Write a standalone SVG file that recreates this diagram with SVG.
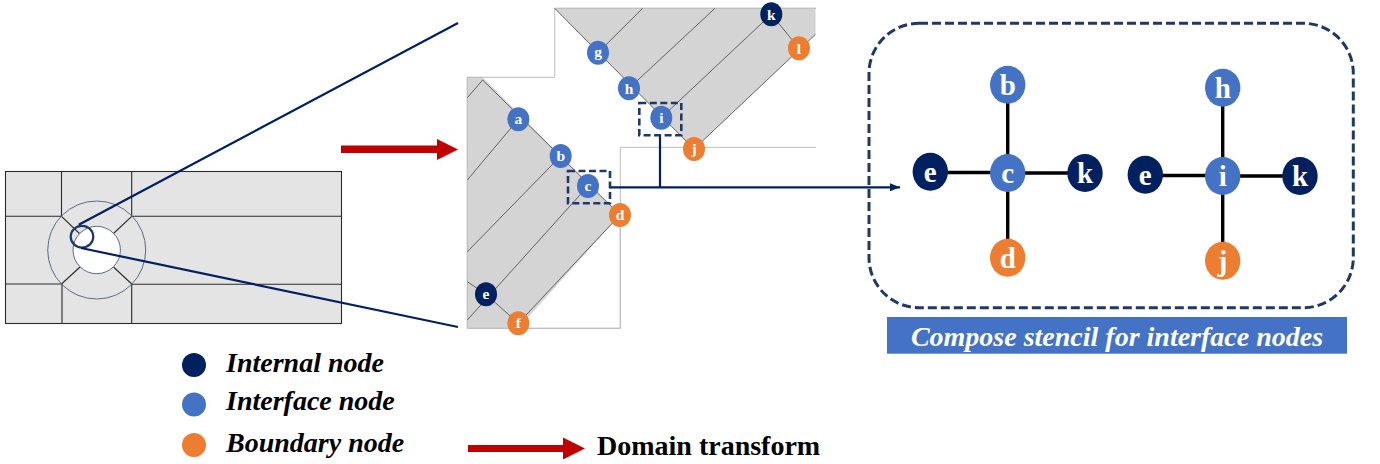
<svg xmlns="http://www.w3.org/2000/svg" width="1380" height="464" viewBox="0 0 1380 464">
<style>
.navy{fill:#002060}.blue{fill:#4472C4}.orange{fill:#ED7D31}
.s text,.b text{font-family:"Liberation Serif","Times New Roman",serif;font-weight:bold;fill:#fff;text-anchor:middle}
.s text{font-size:15.5px}.b text{font-size:29px}
.mesh{stroke:#2a2a2a;stroke-width:1.1;fill:none}
.thin{stroke:#555;stroke-width:.9;fill:none}
.frame{stroke:#bdbdbd;stroke-width:1;fill:none}
.link{stroke:#002060;stroke-width:2.2;fill:none}
.dash{stroke:#1F3864;stroke-width:2.6;fill:none;stroke-dasharray:7 3.5}
.st{stroke:#000;stroke-width:3.4;fill:none}
.lg{font-family:"Liberation Serif","Times New Roman",serif;font-weight:bold;font-size:28px;fill:#000}
</style>
<defs>
<marker id="tip" markerUnits="userSpaceOnUse" markerWidth="10" markerHeight="8" refX="10" refY="4" orient="auto"><path d="M0 0L10 4L0 8z" fill="#002060"/></marker>
</defs>

<g id="mesh">
<rect x="5.5" y="171.5" width="336" height="152" fill="#E4E4E4"/>
<rect x="5.5" y="171.5" width="336" height="152" class="mesh"/>
<path class="mesh" d="M5.5 216.3H61.5M131.7 216.3H341.5M5.5 284H61.5M131.7 284.3H341.5M61.5 171.5V216.3M131.7 171.5V216.3M62 284V323.5M131.7 284V323.5"/>
<path class="mesh" d="M61.5 216.3L80 234M131.7 216.3L113.5 233.5M61.5 284L80 267M131.7 284L113.5 267"/>
<circle cx="96.7" cy="250" r="49" fill="none" stroke="#5a6b85" stroke-width="1"/>
<circle cx="96.7" cy="250" r="23.7" fill="#fff" stroke="#5a6b85" stroke-width="1"/>
<ellipse cx="82" cy="236.7" rx="11.3" ry="10.8" fill="none" stroke="#1F3864" stroke-width="2.2"/>
</g>

<g id="domain">
<path class="frame" d="M467.3 328.3V77.3H554.7V8.3H816M467.3 328.3H620.3V147.3H816"/>
<path fill="#D4D4D4" d="M554.7 8.3H815.5V34.3L694 149L554.7 8.3z"/>
<path fill="#D4D4D4" d="M467.3 77.3H482.7L620 215L518.3 328.3H467.3z"/>
<path class="frame" d="M467.3 328.3V77.3H482.7M554.7 8.3H816M467.3 328.3H620.3V215"/>
<path class="thin" d="M554.7 8.3L694 149M598 52.7L642.7 8.3M629 88.3L715 8.3M661.3 117.7L771.3 14.3L799 48.3M694 149L815.5 34.3"/>
<path class="thin" d="M482.7 80L620 215M482.7 80L467.3 97.7M518.3 119.3L467.3 180M560.7 156L467.3 251.7M588 186L467.3 320M467.3 281.7L486 294.3L518.3 323.3M620 215L518.3 323.3"/>
</g>

<g id="connectors">
<path class="link" d="M78.7 224.7L458 23M81 248L458 327"/>
<path class="link" d="M660 135V187.3M610 187.3H900" marker-end="url(#tip)"/>
<path class="st" d="M1007.7 100V158M1007.7 188V243M946 172.5H992M1023 173H1069M1222.7 103V161M1222.7 191V246M1161 175.5H1207M1238 176H1284"/>
<path fill="#C00000" d="M341 145.5H437V139L458 149.5L437 160V153H341z"/>
<path fill="#C00000" d="M468 445H563V437.5L585 448.5L563 459.5V452H468z"/>
</g>

<rect id="box-i" class="dash" x="639.3" y="103" width="42" height="32.3"/>
<rect id="box-c" class="dash" x="568" y="171" width="42" height="32.3"/>
<rect id="stencil-frame" x="869" y="23.3" width="484.3" height="284.4" rx="50" ry="50" fill="none" stroke="#1F3864" stroke-width="3" stroke-dasharray="9 4"/>

<g id="node-a" class="s"><ellipse class="blue" cx="518.3" cy="119.3" rx="11" ry="12"/><text x="518.3" y="124">a</text></g>
<g id="node-b" class="s"><ellipse class="blue" cx="560.7" cy="156" rx="11" ry="12"/><text x="560.7" y="161">b</text></g>
<g id="node-c" class="s"><ellipse class="blue" cx="588" cy="186" rx="11" ry="12"/><text x="588" y="191">c</text></g>
<g id="node-d" class="s"><ellipse class="orange" cx="620" cy="215" rx="11" ry="12"/><text x="620" y="220">d</text></g>
<g id="node-e" class="s"><ellipse class="navy" cx="486" cy="294.3" rx="11" ry="12"/><text x="486" y="299">e</text></g>
<g id="node-f" class="s"><ellipse class="orange" cx="518.3" cy="323.3" rx="11" ry="12"/><text x="518.3" y="328">f</text></g>
<g id="node-g" class="s"><ellipse class="blue" cx="598" cy="52.7" rx="11" ry="12"/><text x="598" y="57">g</text></g>
<g id="node-h" class="s"><ellipse class="blue" cx="629" cy="88.3" rx="11" ry="12"/><text x="629" y="93.5">h</text></g>
<g id="node-i" class="s"><ellipse class="blue" cx="661.3" cy="117.7" rx="11" ry="12"/><text x="661.3" y="123">i</text></g>
<g id="node-j" class="s"><ellipse class="orange" cx="694" cy="149" rx="11" ry="12"/><text x="694" y="154">j</text></g>
<g id="node-k" class="s"><ellipse class="navy" cx="771.3" cy="14.3" rx="11" ry="12"/><text x="771.3" y="19.5">k</text></g>
<g id="node-l" class="s"><ellipse class="orange" cx="799" cy="48.3" rx="11" ry="12"/><text x="799" y="53.5">l</text></g>

<g id="st1-b" class="b"><ellipse class="blue" cx="1007.7" cy="84.7" rx="17.7" ry="19"/><text x="1007.7" y="95">b</text></g>
<g id="st1-c" class="b"><ellipse class="blue" cx="1007.7" cy="173" rx="17.7" ry="19"/><text x="1007.7" y="183">c</text></g>
<g id="st1-e" class="b"><ellipse class="navy" cx="930.3" cy="171.7" rx="17.7" ry="19"/><text x="930.3" y="182">e</text></g>
<g id="st1-k" class="b"><ellipse class="navy" cx="1085" cy="173" rx="17.7" ry="19"/><text x="1085" y="183">k</text></g>
<g id="st1-d" class="b"><ellipse class="orange" cx="1007.7" cy="257.7" rx="17.7" ry="19"/><text x="1007.7" y="268">d</text></g>
<g id="st2-h" class="b"><ellipse class="blue" cx="1222.7" cy="87.7" rx="17.7" ry="19"/><text x="1222.7" y="98">h</text></g>
<g id="st2-i" class="b"><ellipse class="blue" cx="1222.7" cy="176" rx="17.7" ry="19"/><text x="1222.7" y="186">i</text></g>
<g id="st2-e" class="b"><ellipse class="navy" cx="1145.3" cy="174.7" rx="17.7" ry="19"/><text x="1145.3" y="185">e</text></g>
<g id="st2-k" class="b"><ellipse class="navy" cx="1300" cy="176" rx="17.7" ry="19"/><text x="1300" y="186">k</text></g>
<g id="st2-j" class="b"><ellipse class="orange" cx="1222.7" cy="260.7" rx="17.7" ry="19"/><text x="1222.7" y="271">j</text></g>

<g id="banner">
<rect x="887" y="317" width="460" height="36.7" fill="#4472C4"/>
<text x="1117" y="346" text-anchor="middle" font-family="'Liberation Serif','Times New Roman',serif" font-weight="bold" font-style="italic" font-size="28" fill="#fff">Compose stencil for interface nodes</text>
</g>

<g id="legend">
<circle class="navy" cx="194" cy="365" r="12"/>
<circle class="blue" cx="194" cy="404.5" r="12"/>
<circle class="orange" cx="194" cy="445" r="12"/>
<text class="lg" font-style="italic" x="226" y="372">Internal node</text>
<text class="lg" font-style="italic" x="226" y="410">Interface node</text>
<text class="lg" font-style="italic" x="226" y="452">Boundary node</text>
<text class="lg" x="597" y="455">Domain transform</text>
</g>
</svg>
